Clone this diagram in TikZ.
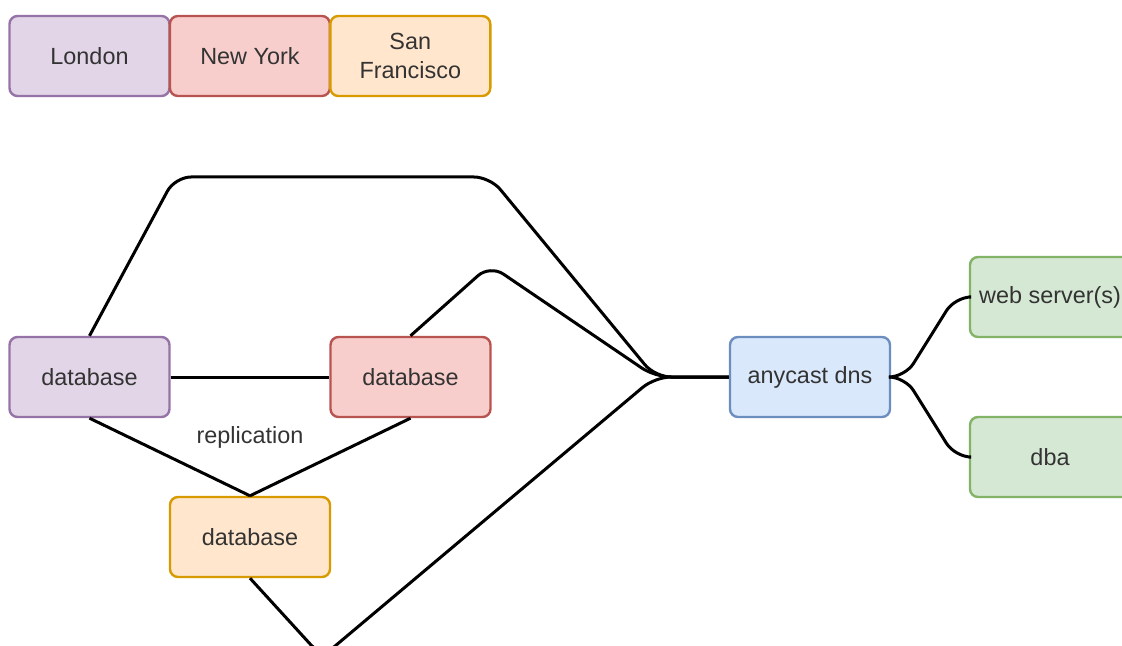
\documentclass[tikz,border=0pt]{standalone}
\usepackage{fontspec}
\setmainfont{Liberation Sans}
\usetikzlibrary{positioning}
\definecolor{london-fill}{HTML}{E1D5E7}
\definecolor{london-draw}{HTML}{9673A6}
\definecolor{ny-fill}{HTML}{F8CECC}
\definecolor{ny-draw}{HTML}{B85450}
\definecolor{sf-fill}{HTML}{FFE6CC}
\definecolor{sf-draw}{HTML}{D79B00}
\definecolor{dns-fill}{HTML}{DAE8FC}
\definecolor{dns-draw}{HTML}{6C8EBF}
\definecolor{app-fill}{HTML}{D5E8D4}
\definecolor{app-draw}{HTML}{82B366}
\tikzset{
  label-text/.style={text=black!80, font=\fontsize{11.7}{14.5}\selectfont},
  site-box/.style={
    rectangle,
    rounded corners=4pt,
    draw=#1-draw,
    fill=#1-fill,
    line width=1.2pt,
    minimum width=80pt,
    minimum height=40pt,
    align=center,
    label-text},
  link-path/.style={line width=1.5pt, rounded corners=8pt},
}

\begin{document}
\begin{tikzpicture}[x=0.5pt, y=-0.5pt]
\useasboundingbox (0,0) rectangle (1122,646);
\clip (0,0) rectangle (1122,646);
% legend
\node[site-box=london] (london) at (89.5,56) {London};
\node[site-box=ny, right=-1pt of london] (newyork) {New York};
\node[site-box=sf, right=-1pt of newyork] (sanfrancisco) {San\\Francisco};
% sites
\node[site-box=london] (db-london) at (89.5,377) {database};
\node[site-box=ny] (db-newyork) at (410.5,377) {database};
\node[site-box=sf] (db-sanfrancisco) at (250,537) {database};
\node[label-text] (replication) at (250,437) {replication};
% front
\node[site-box=dns] (dns) at (810,377) {anycast dns};
\node[site-box=app] (web) at (1050,297) {web server(s)};
\node[site-box=app] (dba) at (1050,457) {dba};
\coordinate (hub) at (655,377);
\coordinate (fork) at (905,377);
% replication links
\draw[link-path] (db-london) -- (db-newyork);
\draw[link-path] (db-london.south) -- (db-sanfrancisco.north);
\draw[link-path] (db-newyork.south) -- (db-sanfrancisco.north);
% links to dns
\draw[link-path] (db-london.north) -- (175,177) -- (490,177) -- (hub) -- (dns.west);
\draw[link-path] (db-newyork.north) -- (490,265) -- (hub) -- (dns.west);
\draw[link-path] (db-sanfrancisco.south) -- (322,657) -- (hub) -- (dns.west);
% dns to backends
\draw[link-path] (dns.east) -- (fork) -- (955,297) -- (web.west);
\draw[link-path] (dns.east) -- (fork) -- (955,457) -- (dba.west);
\end{tikzpicture}
\end{document}
